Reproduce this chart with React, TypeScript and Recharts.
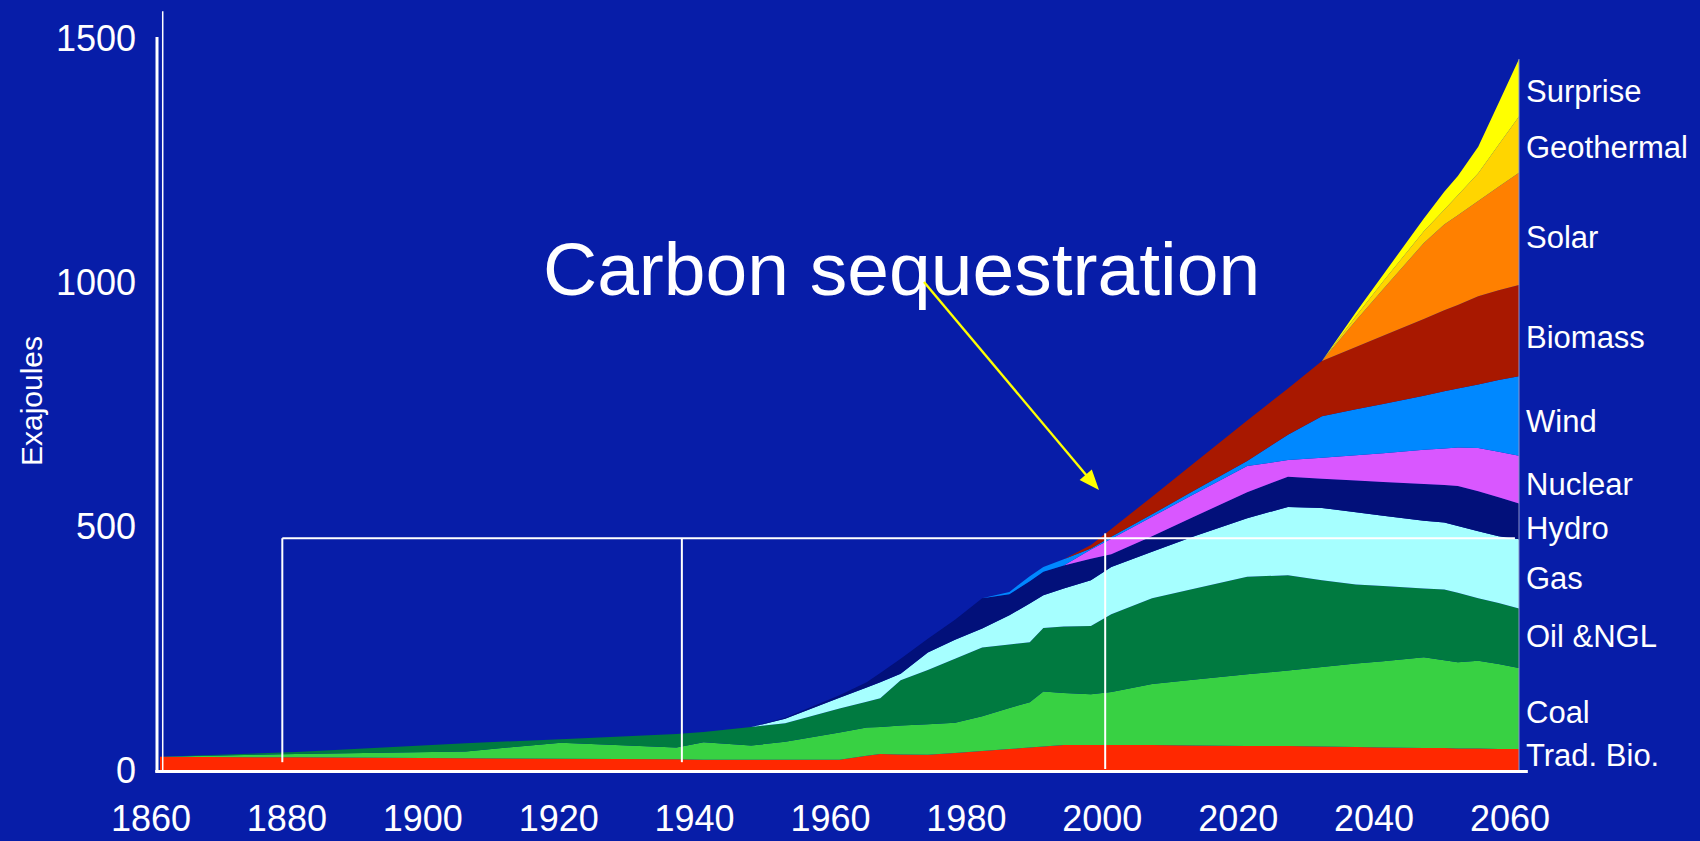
import React from "react";
import { AreaChart, Area, XAxis, YAxis, ReferenceLine } from "recharts";

// Energy by source, Exajoules (stacked bottom -> top)
const years = [1860, 1880, 1905, 1919, 1936, 1940, 1947, 1952, 1960, 1964, 1966, 1969, 1973, 1977, 1981, 1985, 1988, 1990, 1993, 1997, 2000, 2006, 2012, 2020, 2026, 2031, 2036, 2040, 2046, 2049, 2051, 2054, 2057, 2060];

const tradBio = [27, 26, 24, 23, 22, 21, 21, 21, 21, 29, 33, 32, 31, 35, 39, 43, 46, 48, 51, 51, 51, 51, 50, 49, 49, 48, 47, 46, 45, 45, 44, 44, 43, 43];
const coal = [0, 7, 14, 33, 24, 36, 29, 37, 56, 58, 55, 59, 63, 62, 71, 84, 93, 113, 107, 104, 109, 125, 135, 147, 155, 163, 171, 177, 186, 180, 177, 180, 174, 166];
const oil = [0, 4, 17, 7, 28, 21, 38, 38, 49, 53, 59, 93, 111, 131, 141, 130, 123, 130, 136, 140, 159, 176, 186, 200, 195, 178, 162, 154, 141, 145, 142, 128, 125, 122];
const gas = [0, 0, 0, 0, 0, 0, 0, 9, 22, 29, 33, 13, 36, 39, 39, 60, 79, 67, 78, 94, 97, 95, 107, 120, 140, 148, 148, 144, 139, 137, 137, 137, 137, 142];
const hydro = [0, 0, 0, 0, 0, 0, 0, 2, 5, 11, 19, 31, 28, 41, 62, 43, 46, 48, 47, 44, 26, 32, 40, 53, 62, 60, 65, 69, 75, 77, 82, 82, 80, 73];
const nuclear = [0, 0, 0, 0, 0, 0, 0, 0, 0, 0, 0, 0, 0, 0, 0, 0, 0, 0, 0, 19, 32, 40, 46, 54, 34, 43, 52, 59, 70, 75, 79, 89, 93, 98];
const wind = [0, 0, 0, 0, 0, 0, 0, 0, 0, 0, 0, 0, 0, 0, 0, 5, 10, 10, 13, 2, 4, 5, 7, 10, 52, 85, 94, 101, 111, 117, 121, 130, 147, 163];
const biomass = [0, 0, 0, 0, 0, 0, 0, 0, 0, 0, 0, 0, 0, 0, 0, 0, 0, 0, 0, 7, 16, 36, 56, 83, 95, 113, 128, 140, 157, 166, 171, 181, 184, 187];
const solar = [0, 0, 0, 0, 0, 0, 0, 0, 0, 0, 0, 0, 0, 0, 0, 0, 0, 0, 0, 0, 0, 0, 0, 0, 0, 0, 54, 95, 156, 176, 184, 195, 212, 230];
const geothermal = [0, 0, 0, 0, 0, 0, 0, 0, 0, 0, 0, 0, 0, 0, 0, 0, 0, 0, 0, 0, 0, 0, 0, 0, 0, 0, 9, 16, 24, 30, 41, 57, 86, 115];
const surprise = [0, 0, 0, 0, 0, 0, 0, 0, 0, 0, 0, 0, 0, 0, 0, 0, 0, 0, 0, 0, 0, 0, 0, 0, 0, 0, 8, 14, 26, 37, 39, 54, 86, 118];

const xTicks = [1860, 1880, 1900, 1920, 1940, 1960, 1980, 2000, 2020, 2040, 2060];
const yTicks = [0, 500, 1000, 1500];

const series = [
  { key: "tradBio", label: "Trad. Bio.", color: "#FF2800", values: tradBio },
  { key: "coal", label: "Coal", color: "#38D143", values: coal },
  { key: "oil", label: "Oil &NGL", color: "#007A40", values: oil },
  { key: "gas", label: "Gas", color: "#A6FFFF", values: gas },
  { key: "hydro", label: "Hydro", color: "#02107A", values: hydro },
  { key: "nuclear", label: "Nuclear", color: "#D957FF", values: nuclear },
  { key: "wind", label: "Wind", color: "#0088FF", values: wind },
  { key: "biomass", label: "Biomass", color: "#A81800", values: biomass },
  { key: "solar", label: "Solar", color: "#FF8000", values: solar },
  { key: "geothermal", label: "Geothermal", color: "#FFD500", values: geothermal },
  { key: "surprise", label: "Surprise", color: "#FFFF00", values: surprise },
];

// right-hand labels, top to bottom, with their text baselines
const sideLabels = [
  { text: "Surprise", y: 102 },
  { text: "Geothermal", y: 158 },
  { text: "Solar", y: 248 },
  { text: "Biomass", y: 348 },
  { text: "Wind", y: 432 },
  { text: "Nuclear", y: 495 },
  { text: "Hydro", y: 539 },
  { text: "Gas", y: 589 },
  { text: "Oil &NGL", y: 647 },
  { text: "Coal", y: 723 },
  { text: "Trad. Bio.", y: 766 },
];

const data = years.map((year, i) => {
  const row: Record<string, number> = { year };
  series.forEach((s) => (row[s.key] = s.values[i]));
  return row;
});

const FONT = "'Liberation Sans', Arial, Helvetica, sans-serif";
const BG = "#071DA8";

export default function App() {
  return (
    <div style={{ position: "absolute", left: 0, top: 0, width: 1700, height: 841, background: BG, overflow: "hidden", fontFamily: FONT }}>
      <AreaChart width={1700} height={841} data={data} margin={{ top: 38, right: 181, bottom: 0, left: 0 }}>
        <XAxis
          dataKey="year"
          type="number"
          domain={[1860, 2060]}
          ticks={xTicks}
          height={71}
          tickLine={false}
          tickSize={0}
          tickMargin={35}
          axisLine={false}
          tick={{ fill: "#fff", fontSize: 36, fontFamily: FONT, dx: -9 }}
          interval={0}
        />
        <YAxis
          type="number"
          domain={[0, 1500]}
          ticks={yTicks}
          width={160}
          tickLine={false}
          tickSize={0}
          tickMargin={24}
          axisLine={false}
          tick={{ fill: "#fff", fontSize: 36, fontFamily: FONT }}
          interval={0}
        />
        {series.map((s) => (
          <Area
            key={s.key}
            dataKey={s.key}
            name={s.label}
            stackId="energy"
            type="linear"
            stroke="none"
            fill={s.color}
            fillOpacity={1}
            dot={false}
            activeDot={false}
            isAnimationActive={false}
          />
        ))}
        {/* axis frame: thick value axis, thin line beside it, baseline, right edge */}
        <ReferenceLine segment={[{ x: 1859.56, y: -4 }, { x: 1859.56, y: 1502 }]} stroke="#fff" strokeWidth={3} ifOverflow="visible" />
        <ReferenceLine segment={[{ x: 1860.4, y: -4 }, { x: 1860.4, y: 1555 }]} stroke="#fff" strokeWidth={1.5} ifOverflow="visible" />
        <ReferenceLine segment={[{ x: 1859.3, y: -3.1 }, { x: 2061.3, y: -3.1 }]} stroke="#fff" strokeWidth={3} ifOverflow="visible" />
        <ReferenceLine segment={[{ x: 2060, y: 0 }, { x: 2060, y: 1457 }]} stroke="#8A93C8" strokeWidth={1} ifOverflow="visible" />
        {/* white outline box */}
        <ReferenceLine segment={[{ x: 1878, y: 475 }, { x: 2059.4, y: 475 }]} stroke="#fff" strokeWidth={2} ifOverflow="visible" />
        <ReferenceLine segment={[{ x: 1878, y: 16 }, { x: 1878, y: 475 }]} stroke="#fff" strokeWidth={2} ifOverflow="visible" />
        <ReferenceLine segment={[{ x: 1936.8, y: 16 }, { x: 1936.8, y: 475 }]} stroke="#fff" strokeWidth={2} ifOverflow="visible" />
        <ReferenceLine segment={[{ x: 1999.1, y: 2 }, { x: 1999.1, y: 485 }]} stroke="#fff" strokeWidth={2} ifOverflow="visible" />
      </AreaChart>

      <svg width={1700} height={841} style={{ position: "absolute", left: 0, top: 0, pointerEvents: "none" }}>
        <text x={31} y={401} fill="#fff" fontSize={30} fontFamily={FONT} textAnchor="middle" dominantBaseline="central" transform="rotate(-90 31 401)">
          Exajoules
        </text>
        <text x={543} y={295} fill="#fff" fontSize={75} fontFamily={FONT}>
          Carbon sequestration
        </text>
        <line x1={924} y1={282} x2={1087} y2={476} stroke="#FFFF00" strokeWidth={2.4} />
        <polygon points="1099,490 1079.6,479.9 1091.8,469.5" fill="#FFFF00" />
        {sideLabels.map((l) => (
          <text key={l.text} x={1526} y={l.y} fill="#fff" fontSize={31} fontFamily={FONT}>
            {l.text}
          </text>
        ))}
      </svg>
    </div>
  );
}
